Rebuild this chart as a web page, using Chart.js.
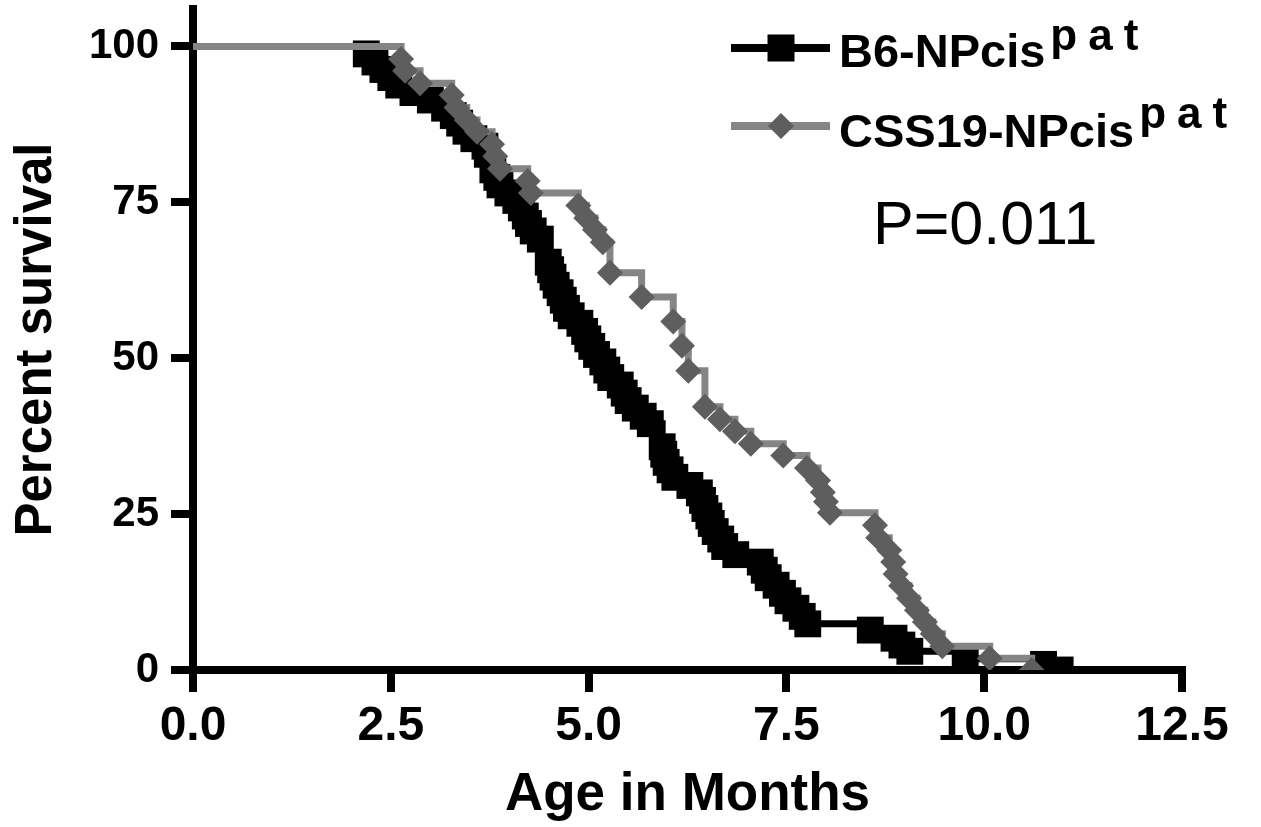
<!DOCTYPE html>
<html lang="en">
<head>
  <meta charset="UTF-8" />
  <title>Percent survival</title>
  <script src="https://cdn.jsdelivr.net/npm/chart.js"></script>
  <style>
    html, body { margin: 0; padding: 0; background: #fff; }
    #wrap { width: 1261px; height: 827px; }
  </style>
</head>
<body>
  <div id="wrap"><canvas id="survivalChart" width="1261" height="827"></canvas></div>

  <script>
    // series names (superscript drawn separately)
    const seriesNames = ['B6-NPcis', 'CSS19-NPcis'];
    const seriesSup = 'pat';
    const pValueText = 'P=0.011';

    // Kaplan-Meier steps: months and percent surviving after each event
    const b6Months = [0, 2.19, 2.30, 2.40, 2.50, 2.60, 2.78, 3.00, 3.18, 3.29, 3.37, 3.45, 3.55, 3.69, 3.72,
      3.79, 3.84, 3.88, 3.98, 4.08, 4.15, 4.20, 4.24, 4.30, 4.39, 4.49, 4.52, 4.55, 4.59, 4.64, 4.68,
      4.72, 4.78, 4.89, 4.95, 4.99, 5.04, 5.10, 5.18, 5.23, 5.28, 5.40, 5.45, 5.50, 5.59, 5.69, 5.78,
      5.93, 5.95, 5.98, 6.03, 6.09, 6.28, 6.40, 6.44, 6.47, 6.52, 6.55, 6.60, 6.67, 6.72, 6.86, 7.17,
      7.22, 7.27, 7.37, 7.45, 7.52, 7.62, 7.70, 7.77, 8.56, 8.86, 8.96, 9.06, 9.76, 10.75, 10.96];
    const b6Survival = [100, 98.8, 97.5, 96.3, 95.0, 93.8, 92.6, 91.4, 90.1, 88.9, 87.7, 86.4, 85.2, 84.0, 82.7,
      80.2, 79.0, 77.8, 76.5, 75.3, 74.1, 72.8, 71.6, 70.4, 69.1, 65.4, 64.2, 63.0, 61.7, 60.5, 59.3,
      58.0, 56.8, 55.6, 54.3, 53.1, 51.9, 50.6, 49.4, 48.1, 46.9, 45.7, 44.4, 43.2, 42.0, 40.7, 39.5,
      35.8, 34.6, 33.3, 32.1, 30.9, 29.6, 28.4, 27.2, 25.9, 24.7, 23.5, 22.2, 21.0, 19.8, 18.5, 17.3,
      16.0, 14.8, 13.6, 12.3, 11.1, 9.9, 8.6, 7.4, 6.4, 5.1, 4.0, 3.0, 1.8, 0.9, 0];

    const cssMonths = [0, 2.63, 2.68, 2.87, 3.27, 3.33, 3.46, 3.59, 3.78, 3.82, 3.88, 4.23, 4.27, 4.87, 4.97,
      5.08, 5.18, 5.27, 5.67, 6.07, 6.18, 6.26, 6.47, 6.66, 6.85, 7.05, 7.46, 7.76, 7.90, 7.96, 8.00,
      8.05, 8.62, 8.66, 8.80, 8.85, 8.88, 8.95, 9.05, 9.15, 9.25, 9.35, 9.47, 10.07, 10.60];
    const cssSurvival = [100, 98.0, 96.1, 94.1, 92.2, 90.2, 88.2, 86.3, 84.3, 82.4, 80.4, 78.4, 76.5, 74.5, 72.5,
      70.6, 68.6, 63.7, 59.8, 55.9, 52.0, 48.0, 42.2, 40.2, 38.3, 36.3, 34.4, 32.4, 30.4, 28.5, 27.0,
      25.2, 23.2, 21.2, 19.2, 17.3, 15.4, 13.5, 11.5, 9.6, 7.7, 5.8, 3.8, 1.9, 0];

    const xTicks = [0, 2.5, 5, 7.5, 10, 12.5];
    const yTicks = [0, 25, 50, 75, 100];

    const toPoints = (xs, ys) => xs.map((x, i) => ({ x: x, y: ys[i] }));
    const boldFont = "'Liberation Sans', Arial, sans-serif";

    // legend with superscripts + p value, drawn on top
    const kmLegend = {
      id: 'kmLegend',
      afterDraw(chart) {
        const ctx = chart.ctx;
        const rows = [
          { ds: chart.data.datasets[0], lineY: 48, base: 67, supBase: 50 },
          { ds: chart.data.datasets[1], lineY: 126, base: 147, supBase: 128 }
        ];
        ctx.save();
        rows.forEach((row, i) => {
          const ds = row.ds;
          ctx.strokeStyle = ds.borderColor;
          ctx.lineWidth = 8;
          ctx.beginPath();
          ctx.moveTo(731, row.lineY);
          ctx.lineTo(830, row.lineY);
          ctx.stroke();

          ctx.fillStyle = ds.pointBackgroundColor;
          const cx = 781;
          if (ds.pointStyle === 'rect') {
            ctx.fillRect(cx - 13.5, row.lineY - 13.5, 27, 27);
          } else {
            ctx.beginPath();
            ctx.moveTo(cx - 13, row.lineY);
            ctx.lineTo(cx, row.lineY - 13);
            ctx.lineTo(cx + 13, row.lineY);
            ctx.lineTo(cx, row.lineY + 13);
            ctx.closePath();
            ctx.fill();
          }

          ctx.fillStyle = '#000';
          ctx.textBaseline = 'alphabetic';
          ctx.textAlign = 'left';
          ctx.font = 'bold 47px ' + boldFont;
          ctx.fillText(seriesNames[i], 839, row.base);
          let x = 839 + ctx.measureText(seriesNames[i]).width + 5;
          ctx.font = 'bold 44px ' + boldFont;
          for (const ch of seriesSup) {
            ctx.fillText(ch, x, row.supBase);
            x += ctx.measureText(ch).width + 11;
          }
        });

        ctx.font = '61px ' + boldFont;
        ctx.fillText(pValueText, 873, 244);
        ctx.restore();
      }
    };

    const ctx = document.getElementById('survivalChart').getContext('2d');
    new Chart(ctx, {
      type: 'line',
      data: {
        datasets: [
          {
            label: seriesNames[0],
            data: toPoints(b6Months, b6Survival),
            borderColor: '#000000',
            borderWidth: 7,
            stepped: true,
            pointStyle: 'rect',
            pointRadius: c => (c.dataIndex === 0 ? 0 : 19),
            pointBackgroundColor: '#000000',
            pointBorderWidth: 0,
            clip: 0,
            order: 2
          },
          {
            label: seriesNames[1],
            data: toPoints(cssMonths, cssSurvival),
            borderColor: '#858585',
            borderWidth: 7,
            stepped: true,
            pointStyle: 'rectRot',
            pointRadius: c => (c.dataIndex === 0 ? 0 : 13),
            pointBackgroundColor: '#5e5e5e',
            pointBorderWidth: 0,
            clip: 0,
            order: 1
          }
        ]
      },
      options: {
        responsive: false,
        animation: false,
        devicePixelRatio: 1,
        events: [],
        layout: { autoPadding: false, padding: { left: 0, right: 79, top: 9, bottom: 0 } },
        plugins: {
          legend: { display: false },
          tooltip: { enabled: false }
        },
        scales: {
          x: {
            type: 'linear',
            min: 0,
            max: 12.5,
            afterBuildTicks: s => { s.ticks = xTicks.map(v => ({ value: v })); },
            afterFit: s => { s.height = 157; },
            ticks: {
              callback: v => Number(v).toFixed(1),
              color: '#000',
              padding: 6,
              maxRotation: 0,
              autoSkip: false,
              font: { family: boldFont, size: 48, weight: 'bold' }
            },
            grid: { drawOnChartArea: false, tickLength: 22, lineWidth: 8, tickColor: '#000' },
            border: { color: '#000', width: 8 },
            title: {
              display: true,
              text: 'Age in Months',
              color: '#000',
              padding: { top: 0, bottom: 0 },
              font: { family: boldFont, size: 53, weight: 'bold' }
            }
          },
          y: {
            min: 0,
            max: 106,
            afterBuildTicks: s => { s.ticks = yTicks.map(v => ({ value: v })); },
            // axis runs up past 100, so no label room is needed at the top
            afterFit: s => { s.width = 193; s.paddingTop = 0; s.paddingBottom = 0; },
            ticks: {
              color: '#000',
              padding: 12,
              font: { family: boldFont, size: 42, weight: 'bold' }
            },
            grid: { drawOnChartArea: false, tickLength: 22, lineWidth: 8, tickColor: '#000' },
            border: { color: '#000', width: 8 },
            title: {
              display: true,
              text: 'Percent survival',
              color: '#000',
              padding: { top: 6, bottom: 4 },
              font: { family: boldFont, size: 51, weight: 'bold' }
            }
          }
        }
      },
      plugins: [kmLegend]
    });
  </script>
</body>
</html>
